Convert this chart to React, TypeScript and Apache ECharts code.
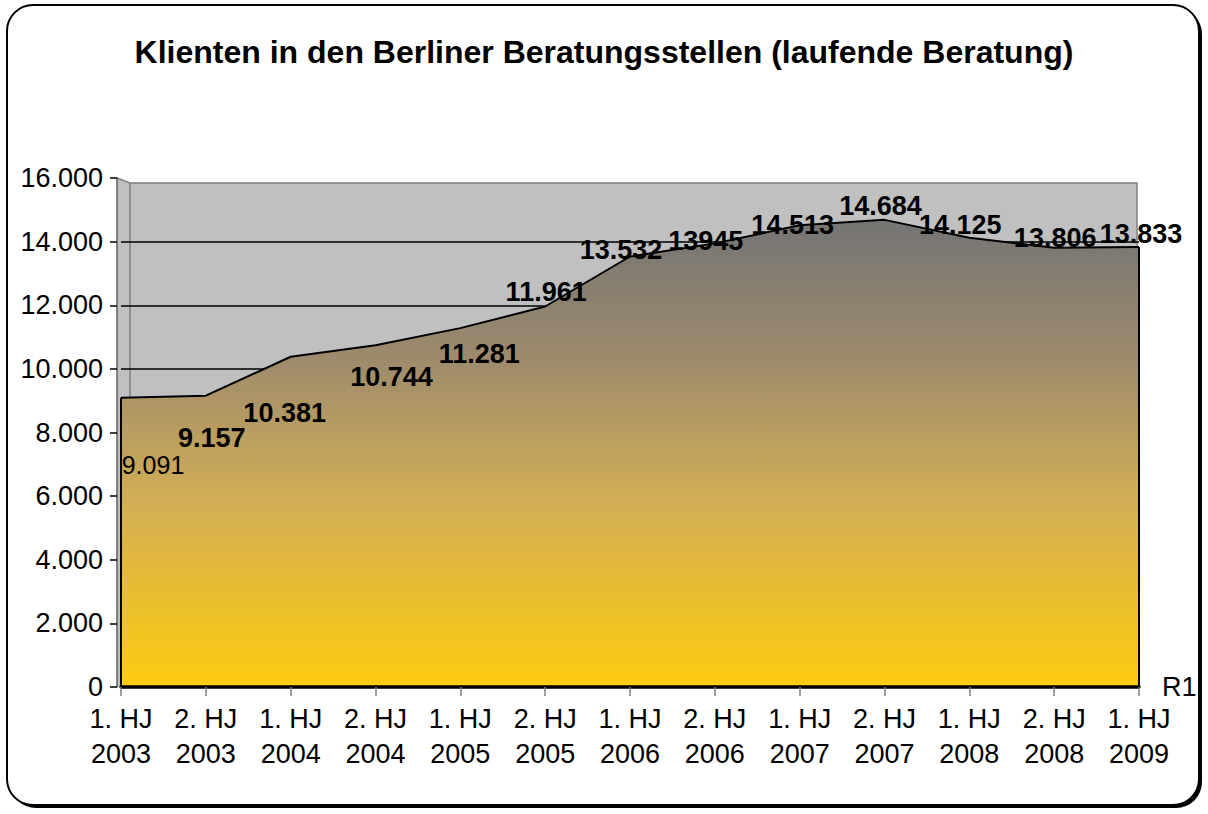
import React, { useEffect, useRef } from "react";
import * as echarts from "echarts";

const categories = [
  "1. HJ\n2003", "2. HJ\n2003", "1. HJ\n2004", "2. HJ\n2004", "1. HJ\n2005",
  "2. HJ\n2005", "1. HJ\n2006", "2. HJ\n2006", "1. HJ\n2007", "2. HJ\n2007",
  "1. HJ\n2008", "2. HJ\n2008", "1. HJ\n2009",
];
const values = [9091, 9157, 10381, 10744, 11281, 11961, 13532, 13945, 14513, 14684, 14125, 13806, 13833];
const labelTexts = ["9.091", "9.157", "10.381", "10.744", "11.281", "11.961", "13.532", "13945", "14.513", "14.684", "14.125", "13.806", "13.833"];
const seriesName = "R1";
const titleText = "Klienten in den Berliner Beratungsstellen (laufende Beratung)";
const yMin = 0;
const yMax = 16000;
const yInterval = 2000;

// layout (pixels)
const W = 1208;
const H = 814;
const GL = 121; // grid left
const GR = 1139; // grid right
const GT = 178; // grid top
const GB = 687; // grid bottom
const AXIS_X = 117;
const WALL_X = 130;
const WALL_TOP = 183;
const WALL_RIGHT = 1137;
const labelOffsets = [
  [32, 67], [6, 42], [-6, 56], [16, 32], [19, 26], [1, -14], [-9, -7],
  [-9, -2], [-7, 0], [-4, -14], [-9, -13], [1, -10], [2, -13],
];

const FONT = "Liberation Sans, Arial, sans-serif";

function fmt(v: number): string {
  return String(v).replace(/\B(?=(\d{3})+(?!\d))/g, ".");
}

export default function App() {
  const ref = useRef<HTMLDivElement>(null);
  useEffect(() => {
    if (!ref.current) return;
    const chart = echarts.init(ref.current, null, { renderer: "svg" });
    const nLines = (yMax - yMin) / yInterval + 1;
    const splitColors = Array.from({ length: nLines }, (_, i) => (i === nLines - 1 ? "rgba(0,0,0,0)" : "#000000"));
    const data = values.map((v, i) => ({
      value: v,
      label: {
        offset: labelOffsets[i],
        fontWeight: i === 0 ? "normal" : "bold",
        fontSize: i === 0 ? 25 : 27,
        formatter: labelTexts[i],
      },
    }));
    const option: any = {
      animation: false,
      backgroundColor: "#ffffff",
      title: {
        text: titleText,
        left: "center",
        top: 31,
        textStyle: { fontFamily: FONT, fontSize: 32, fontWeight: "bold", color: "#000" },
      },
      graphic: {
        elements: [
          { type: "rect", z: 0, shape: { x: 10, y: 8, width: 1192, height: 800, r: 26 }, style: { fill: "#000" } },
          { type: "rect", z: 0, shape: { x: 7, y: 5, width: 1192, height: 800, r: 26 }, style: { fill: "#fff", stroke: "#000", lineWidth: 2 } },
          {
            type: "polygon", z: 0,
            shape: { points: [[AXIS_X, GT], [WALL_X, WALL_TOP], [WALL_RIGHT, WALL_TOP], [WALL_RIGHT, GB], [AXIS_X, GB]] },
            style: { fill: "#C0C0C0" },
          },
          {
            type: "polyline", z: 0,
            shape: { points: [[AXIS_X, GT], [WALL_X, WALL_TOP], [WALL_RIGHT, WALL_TOP], [WALL_RIGHT, GB]] },
            style: { stroke: "#808080", lineWidth: 1.5, fill: null },
          },
          { type: "line", z: 0, shape: { x1: WALL_X, y1: WALL_TOP, x2: WALL_X, y2: GB }, style: { stroke: "#808080", lineWidth: 1.5 } },
        ],
      },
      grid: { left: GL, right: W - GR, top: GT, bottom: H - GB, containLabel: false },
      xAxis: {
        type: "category",
        data: categories,
        boundaryGap: false,
        z: 3,
        name: seriesName,
        nameLocation: "end",
        nameGap: 23,
        nameTextStyle: { fontFamily: FONT, fontSize: 27, color: "#000" },
        axisLine: { show: true, lineStyle: { color: "#000", width: 3.5 } },
        axisTick: { show: true, length: 9, lineStyle: { color: "#808080", width: 1.5 }, alignWithLabel: true },
        axisLabel: { fontFamily: FONT, fontSize: 27, color: "#000", lineHeight: 35, margin: 14, interval: 0 },
        splitLine: { show: false },
      },
      yAxis: {
        type: "value",
        min: yMin,
        max: yMax,
        interval: yInterval,
        offset: GL - AXIS_X,
        z: 1,
        axisLine: { show: true, lineStyle: { color: "#606060", width: 1.5 } },
        axisTick: { show: true, length: 7, lineStyle: { color: "#000", width: 1.5 } },
        axisLabel: { fontFamily: FONT, fontSize: 27, color: "#000", margin: 14, formatter: (v: number) => fmt(v) },
        splitLine: { show: true, lineStyle: { color: splitColors, width: 1.5 } },
      },
      series: [
        {
          type: "line",
          name: seriesName,
          data,
          z: 2,
          symbol: "circle",
          symbolSize: 1,
          showSymbol: true,
          itemStyle: { color: "rgba(0,0,0,0)" },
          lineStyle: { color: "#000", width: 2 },
          areaStyle: {
            opacity: 1,
            color: new echarts.graphic.LinearGradient(0, 0, 0, 1, [
              { offset: 0, color: "#747474" },
              { offset: 0.3, color: "#9E8B6C" },
              { offset: 0.6, color: "#D2AE55" },
              { offset: 1, color: "#FECC0E" },
            ]),
          },
          label: {
            show: true,
            position: "inside",
            color: "#000",
            fontFamily: FONT,
          },
          markLine: {
            silent: true,
            symbol: "none",
            label: { show: false },
            lineStyle: { color: "#000", width: 2, type: "solid" },
            data: [
              [{ coord: [0, yMin] }, { coord: [0, values[0]] }],
              [{ coord: [values.length - 1, yMin] }, { coord: [values.length - 1, values[values.length - 1]] }],
            ],
          },
        },
      ],
    };
    chart.setOption(option);
    return () => chart.dispose();
  }, []);
  return (
    <div
      ref={ref}
      style={{ position: "fixed", left: 0, top: 0, width: W, height: H }}
    />
  );
}
